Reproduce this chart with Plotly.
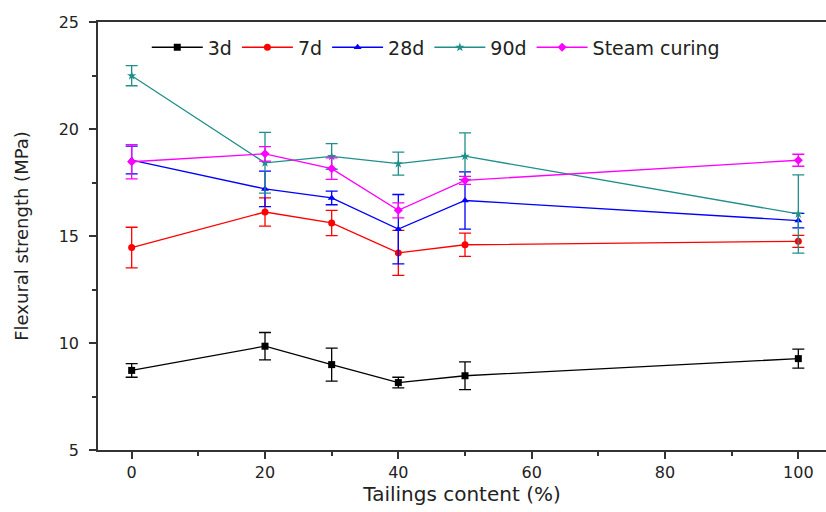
import plotly.graph_objects as go

tailings = [0, 20, 30, 40, 50, 100]

s3d = [8.72, 9.85, 8.99, 8.15, 8.47, 9.27]
e3d = [0.32, 0.64, 0.77, 0.25, 0.65, 0.44]

s7d = [14.46, 16.12, 15.61, 14.21, 14.59, 14.75]
e7d = [0.95, 0.66, 0.59, 1.05, 0.54, 0.28]

s28d = [18.55, 17.20, 16.78, 15.32, 16.66, 15.72]
e28d = [0.65, 0.83, 0.32, 1.62, 1.34, 0.34]

s90d = [22.49, 18.42, 18.72, 18.38, 18.73, 16.03]
e90d = [0.47, 1.42, 0.60, 0.54, 1.09, 1.83]

steam = [18.47, 18.84, 18.15, 16.20, 17.60, 18.54]
esteam = [0.80, 0.34, 0.50, 0.35, 0.19, 0.28]

series = [
    ("3d", s3d, e3d, "#000000", "square"),
    ("7d", s7d, e7d, "#ff0000", "circle"),
    ("28d", s28d, e28d, "#0000ff", "triangle-up"),
    ("90d", s90d, e90d, "#1f8f8a", "star"),
    ("Steam curing", steam, esteam, "#ff00ff", "diamond"),
]

fig = go.Figure()
for name, ys, es, col, sym in series:
    fig.add_trace(go.Scatter(
        x=tailings, y=ys, name=name, mode="lines+markers",
        line=dict(color=col, width=1.3),
        marker=dict(symbol=sym, size=7, color=col, line=dict(width=0)),
        error_y=dict(type="data", array=es, visible=True, color=col,
                     thickness=1.3, width=6),
    ))

FONT = "DejaVu Sans, Arial, sans-serif"
fig.update_layout(
    width=826, height=512,
    margin=dict(l=98, r=0, t=22, b=62),
    plot_bgcolor="white", paper_bgcolor="white",
    font=dict(family=FONT, size=16, color="#222"),
    showlegend=True,
    legend=dict(orientation="h", x=0.067, y=0.985, xanchor="left", yanchor="top",
                bgcolor="rgba(0,0,0,0)", font=dict(family=FONT, size=19, color="#222"),
                itemwidth=51, tracegroupgap=0),
)
fig.update_xaxes(
    range=[-5.05, 104.15], tickvals=[0, 20, 40, 60, 80, 100],
    showgrid=False, zeroline=False,
    showline=True, linecolor="#333", linewidth=1.5, mirror=True,
    ticks="outside", ticklen=7, tickwidth=1.5, tickcolor="#333",
    minor=dict(ticks="outside", ticklen=4, tickwidth=1.5, tickcolor="#333", dtick=10, showgrid=False),
    title=dict(text="Tailings content (%)", font=dict(family=FONT, size=20), standoff=4),
    tickfont=dict(family=FONT, size=16),
)
fig.update_yaxes(
    range=[5, 25], tickvals=[5, 10, 15, 20, 25],
    showgrid=False, zeroline=False,
    showline=True, linecolor="#333", linewidth=1.5,
    ticks="outside", ticklen=7, tickwidth=1.5, tickcolor="#333",
    ticklabelstandoff=7,
    minor=dict(ticks="outside", ticklen=4, tickwidth=1.5, tickcolor="#333", dtick=2.5, showgrid=False),
    title=dict(text="Flexural strength (MPa)", font=dict(family=FONT, size=18), standoff=25),
    tickfont=dict(family=FONT, size=16),
)

fig.write_html("out.html")
